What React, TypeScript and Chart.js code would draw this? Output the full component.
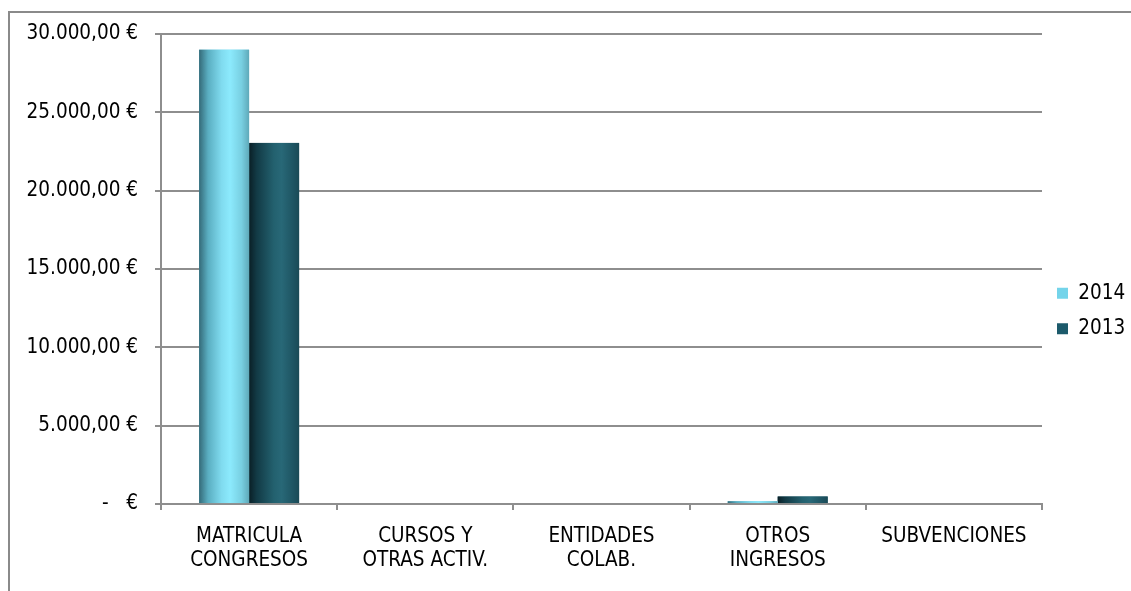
import React, { useEffect, useRef } from "react";
import { Chart, registerables } from "chart.js";

Chart.register(...registerables);

const categories: string[][] = [
  ["MATRICULA", "CONGRESOS"],
  ["CURSOS Y", "OTRAS ACTIV."],
  ["ENTIDADES", "COLAB."],
  ["OTROS", "INGRESOS"],
  ["SUBVENCIONES"],
];
const values2014: number[] = [29000, 0, 0, 180, 0];
const values2013: number[] = [23050, 0, 0, 480, 0];
const seriesLabels: string[] = ["2014", "2013"];
const yMax = 30000;
const yStep = 5000;

const FONT = "'DejaVu Sans Condensed', 'DejaVu Sans', sans-serif";

const gradStops: [number, string][][] = [
  [
    [0, "#346a78"],
    [0.18, "#5aaec1"],
    [0.45, "#80dbef"],
    [0.62, "#8ceafd"],
    [0.85, "#78cfe1"],
    [1, "#5fa9b9"],
  ],
  [
    [0, "#0a1f26"],
    [0.15, "#123a45"],
    [0.5, "#23616f"],
    [0.65, "#286877"],
    [0.9, "#1d5361"],
    [1, "#1a4a56"],
  ],
];

function fmt(v: number): string {
  if (v === 0) return "-   €";
  const s = Math.round(v)
    .toString()
    .replace(/\B(?=(\d{3})+(?!\d))/g, ".");
  return s + ",00 €";
}

const cylinderPlugin = {
  id: "cylinder",
  afterDatasetDraw(chart: any, args: any) {
    const ctx = chart.ctx;
    const meta = args.meta;
    const stops = gradStops[args.index];
    ctx.save();
    meta.data.forEach((bar: any) => {
      const { x, y, base, width } = bar.getProps(["x", "y", "base", "width"], true);
      const h = base - y;
      if (Math.abs(h) < 0.5) return;
      const left = x - width / 2;
      const g = ctx.createLinearGradient(left, 0, left + width, 0);
      stops.forEach(([o, c]) => g.addColorStop(o, c));
      ctx.fillStyle = g;
      ctx.fillRect(left, y, width, h);
    });
    ctx.restore();
  },
};

export default function App() {
  const ref = useRef<HTMLCanvasElement | null>(null);
  useEffect(() => {
    if (!ref.current) return;
    const chart = new Chart(ref.current, {
      type: "bar",
      data: {
        labels: categories,
        datasets: [
          {
            label: seriesLabels[0],
            data: values2014,
            backgroundColor: "#74d4ea",
            borderWidth: 0,
          },
          {
            label: seriesLabels[1],
            data: values2013,
            backgroundColor: "#1c5a6b",
            borderWidth: 0,
          },
        ],
      },
      options: {
        animation: false,
        responsive: false,
        maintainAspectRatio: false,
        datasets: {
          bar: { categoryPercentage: 0.5675, barPercentage: 1 },
        },
        layout: { padding: { top: 21, bottom: 3, left: 0, right: 0 } },
        plugins: {
          tooltip: { enabled: false },
          legend: {
            position: "right",
            maxWidth: 89,
            labels: {
              boxWidth: 11,
              boxHeight: 11,
              padding: 15,
              color: "#000",
              font: { family: FONT, size: 20.5 },
            },
          },
        },
        scales: {
          x: {
            grid: {
              display: true,
              drawOnChartArea: false,
              drawTicks: true,
              tickLength: 6,
              color: "#8e8e8e",
              lineWidth: 2,
              offset: true,
            },
            border: { display: true, color: "#8e8e8e", width: 2 },
            ticks: {
              color: "#000",
              font: { family: FONT, size: 20.5, lineHeight: 1.17 },
              padding: 15,
              maxRotation: 0,
              autoSkip: false,
            },
          },
          y: {
            min: 0,
            max: yMax,
            afterFit(scale: any) {
              scale.width = 151;
              scale.paddingTop = 0;
              scale.paddingBottom = 0;
            },
            grid: {
              color: "#8e8e8e",
              lineWidth: 2,
              tickLength: 6,
            },
            border: { display: true, color: "#8e8e8e", width: 2 },
            ticks: {
              stepSize: yStep,
              color: "#000",
              font: { family: FONT, size: 20.5 },
              padding: 17,
              callback: (v: any) => fmt(Number(v)),
            },
          },
        },
      },
      plugins: [cylinderPlugin],
    });
    return () => chart.destroy();
  }, []);

  return (
    <div
      style={{
        position: "fixed",
        left: 8,
        top: 11,
        width: 1130,
        height: 590,
        borderTop: "2px solid #8a8a8a",
        borderLeft: "2px solid #8a8a8a",
        boxSizing: "border-box",
        background: "#fff",
      }}
    >
      <canvas ref={ref} width={1121} height={578} style={{ display: "block" }} />
    </div>
  );
}
